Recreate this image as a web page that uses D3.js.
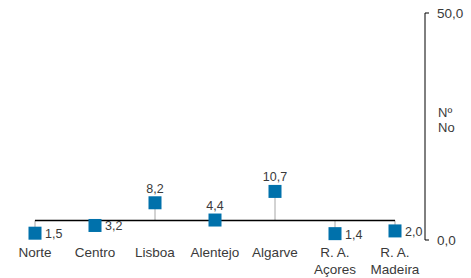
<!DOCTYPE html>
<html lang="pt">
<head>
<meta charset="UTF-8">
<title>Regiões</title>
<style>
    body { margin: 0; background: #ffffff; }
    svg text { font-family: 'Liberation Sans', Arial, sans-serif; fill: #3a3a3a; }
</style>
</head>
<body>
<div id="chart"></div>
<script src="https://d3js.org/d3.v7.min.js"></script>
<script>
    const categories = [["Norte"], ["Centro"], ["Lisboa"], ["Alentejo"], ["Algarve"], ["R. A.", "Açores"], ["R. A.", "Madeira"]];
    const values = [1.5, 3.2, 8.2, 4.4, 10.7, 1.4, 2.0];
    const baseline = 4.3;
    const axisTicks = [0, 50];
    const axisTitle = ["Nº", "No"];

    const width = 471, height = 278;
    const fmt = v => d3.format(".1f")(v).replace(".", ",");

    const svg = d3.select('#chart').append('svg')
        .attr('width', width)
        .attr('height', height);

    const x = d3.scalePoint()
        .domain(categories.map((c, i) => i))
        .range([35, 395]);

    const y = d3.scaleLinear()
        .domain([0, 50])
        .range([240, 13]);

    // right axis
    const axis = svg.append('g').attr('transform', 'translate(425,0)');
    axis.append('line')
        .attr('y1', y(0)).attr('y2', y(50))
        .attr('stroke', '#000').attr('stroke-width', 1);
    axis.selectAll('.tick').data(axisTicks).enter().append('line')
        .attr('x1', 0).attr('x2', 4)
        .attr('y1', d => y(d)).attr('y2', d => y(d))
        .attr('stroke', '#000');
    axis.selectAll('.ticklabel').data(axisTicks).enter().append('text')
        .attr('x', 12).attr('y', d => y(d) + 5)
        .style('font-size', '13.5px')
        .text(d => fmt(d));
    axis.append('text')
        .attr('x', 13).attr('y', 117)
        .style('font-size', '13px')
        .selectAll('tspan').data(axisTitle).enter().append('tspan')
        .attr('x', 13).attr('dy', (d, i) => i ? 15 : 0)
        .text(d => d);

    // drop lines
    svg.selectAll('.drop').data(values).enter().append('line')
        .attr('x1', (d, i) => x(i)).attr('x2', (d, i) => x(i))
        .attr('y1', y(baseline)).attr('y2', d => y(d))
        .attr('stroke', '#a6a6a6').attr('stroke-width', 1);

    // baseline
    svg.append('line')
        .attr('x1', x(0)).attr('x2', x(categories.length - 1))
        .attr('y1', y(baseline)).attr('y2', y(baseline))
        .attr('stroke', '#000').attr('stroke-width', 1.5);

    // markers
    const s = 13;
    svg.selectAll('.mark').data(values).enter().append('rect')
        .attr('x', (d, i) => x(i) - s / 2)
        .attr('y', d => y(d) - s / 2)
        .attr('width', s).attr('height', s)
        .attr('fill', '#0071AB');

    // value labels
    svg.selectAll('.val').data(values).enter().append('text')
        .attr('x', (d, i) => d >= baseline ? x(i) : x(i) + 10)
        .attr('y', d => d >= baseline ? y(d) - 10 : y(d) + 5)
        .attr('text-anchor', d => d >= baseline ? 'middle' : 'start')
        .style('font-size', '12.5px')
        .text(d => fmt(d));

    // category labels
    const cat = svg.selectAll('.cat').data(categories).enter().append('text')
        .attr('text-anchor', 'middle')
        .attr('y', 257)
        .style('font-size', '13.5px');
    cat.selectAll('tspan').data((d, i) => d.map(t => ({t, i}))).enter().append('tspan')
        .attr('x', d => x(d.i))
        .attr('dy', (d, j) => j ? 17 : 0)
        .text(d => d.t);
</script>
</body>
</html>
